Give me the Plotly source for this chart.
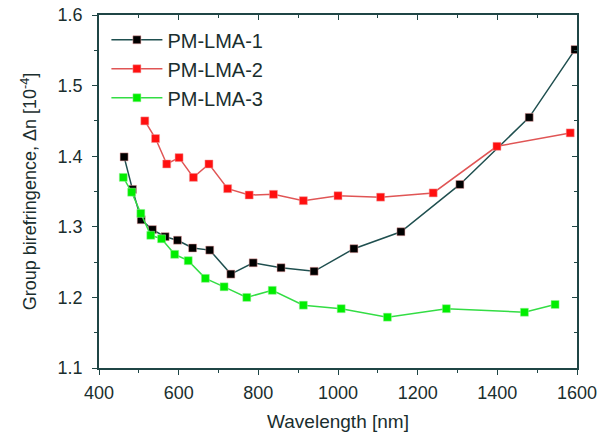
import plotly.graph_objects as go

# Data
wl1 = [463, 484, 506, 534, 566, 597, 635, 678, 731, 787, 857, 940, 1040, 1158, 1306, 1480, 1595]
bn1 = [1.399, 1.353, 1.310, 1.296, 1.286, 1.281, 1.270, 1.267, 1.233, 1.249, 1.242, 1.237, 1.269, 1.293, 1.360, 1.455, 1.551]

wl2 = [515, 542, 570, 601, 637, 676, 723, 777, 838, 913, 1000, 1107, 1239, 1399, 1583]
bn2 = [1.450, 1.425, 1.389, 1.398, 1.370, 1.389, 1.354, 1.345, 1.346, 1.337, 1.344, 1.342, 1.348, 1.414, 1.433]

wl3 = [461, 482, 505, 530, 557, 590, 624, 667, 714, 771, 835, 913, 1008, 1124, 1272, 1468, 1545]
bn3 = [1.370, 1.349, 1.319, 1.288, 1.283, 1.261, 1.252, 1.227, 1.215, 1.200, 1.210, 1.189, 1.184, 1.172, 1.184, 1.179, 1.190]

names = ["PM-LMA-1", "PM-LMA-2", "PM-LMA-3"]

x_range = [400, 1600]
y_range = [1.1, 1.6]
x_ticks = [400, 600, 800, 1000, 1200, 1400, 1600]
y_ticks = [1.1, 1.2, 1.3, 1.4, 1.5, 1.6]

axis_col = "#1f4545"
font = "Liberation Sans, Arial, sans-serif"

fig = go.Figure()
styles = [
    dict(line=dict(color="#1f4f4f", width=1.5), marker=dict(color="#000000", symbol="square", size=8, line=dict(color="#f0a0a0", width=0.5))),
    dict(line=dict(color="#e05555", width=1.5), marker=dict(color="#ff1010", symbol="square", size=8, line=dict(color="#f0a0a0", width=0.5))),
    dict(line=dict(color="#33dd44", width=1.5), marker=dict(color="#00ee00", symbol="square", size=8, line=dict(color="#a0f0a0", width=0.5))),
]
for wl, bn, nm, st in zip([wl1, wl2, wl3], [bn1, bn2, bn3], names, styles):
    fig.add_trace(go.Scatter(x=wl, y=bn, mode="lines+markers", name=nm, **st))

# transparent trace so the mirrored (top/right) axes are drawn
fig.add_trace(go.Scatter(x=[x_range[0]], y=[y_range[0]], xaxis="x2", yaxis="y2", mode="markers",
                         marker=dict(opacity=0, size=1), showlegend=False, hoverinfo="skip"))

common = dict(showgrid=False, zeroline=False, showline=True, linecolor=axis_col, linewidth=1.5,
              tickcolor=axis_col, tickwidth=1.2, automargin=False)

fig.update_layout(
    width=605, height=437,
    margin=dict(l=99, r=28, t=15, b=69),
    paper_bgcolor="white", plot_bgcolor="white",
    font=dict(family=font, color="#1a2e2e", size=18),
    showlegend=True,
    legend=dict(x=0.0155, y=0.985, xanchor="left", yanchor="top", bgcolor="rgba(0,0,0,0)",
                font=dict(size=20), tracegroupgap=0, itemwidth=51),
    xaxis=dict(range=x_range, tickvals=x_ticks, ticks="outside", ticklen=5, ticklabelstandoff=3,
               minor=dict(dtick=100, ticks="outside", ticklen=3, tickcolor=axis_col),
               title=dict(text="Wavelength [nm]", font=dict(size=19), standoff=12),
               tickfont=dict(size=18), **common),
    yaxis=dict(range=y_range, tickvals=y_ticks, ticks="outside", ticklen=5, tickformat=".1f",
               ticklabelstandoff=6,
               minor=dict(dtick=0.05, ticks="outside", ticklen=3, tickcolor=axis_col),
               title=dict(text="Group birefringence, \u0394n [10<sup>-4</sup>]", font=dict(size=18), standoff=16),
               tickfont=dict(size=18), **common),
    xaxis2=dict(range=x_range, overlaying="x", side="top", anchor="y", tickvals=x_ticks,
                ticks="inside", ticklen=5, showticklabels=False,
                minor=dict(dtick=100, ticks="inside", ticklen=3, tickcolor=axis_col), **common),
    yaxis2=dict(range=y_range, overlaying="y", side="right", anchor="x", tickvals=y_ticks,
                ticks="inside", ticklen=5, showticklabels=False,
                minor=dict(dtick=0.05, ticks="inside", ticklen=3, tickcolor=axis_col), **common),
)

fig.write_html("out.html", config={"displayModeBar": False},
               post_script="document.body.style.margin='0px';")
